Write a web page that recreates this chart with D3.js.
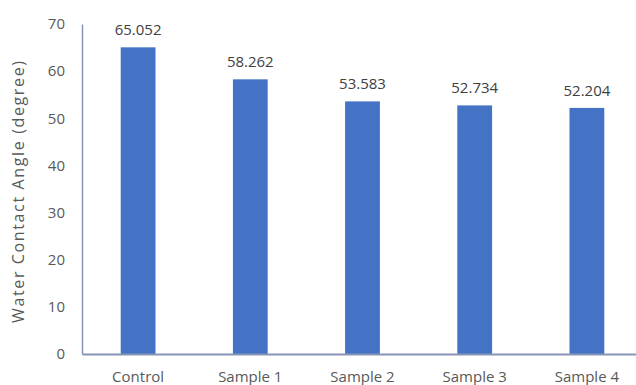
<!DOCTYPE html>
<html>
<head>
<meta charset="utf-8">
<script src="https://cdn.jsdelivr.net/npm/d3@7"></script>
<style>
  body { margin: 0; background: #fff; }
  text { font-family: "Open Sans", "DejaVu Sans", sans-serif; fill: #595959; }
</style>
</head>
<body>
<div id="chart"></div>
<script>
  // Chart data.
  const categories = ['Control', 'Sample 1', 'Sample 2', 'Sample 3', 'Sample 4'];
  const angles = [65.052, 58.262, 53.583, 52.734, 52.204];
  const yTicks = [0, 10, 20, 30, 40, 50, 60, 70];

  // Visualization size.
  const width = 636;
  const height = 385;

  const svg = d3.select('#chart')
    .append('svg')
    .attr('width', width)
    .attr('height', height);

  // Scales.
  const x = d3.scaleBand()
    .domain(categories)
    .range([82, 643])
    .paddingInner(0.69)
    .paddingOuter(0.345);

  const y = d3.scaleLinear()
    .domain([0, 70])
    .range([354, 24]);

  // Bars.
  svg.append('g')
    .selectAll('rect')
    .data(angles)
    .enter()
    .append('rect')
    .attr('x', (d, i) => x(categories[i]))
    .attr('y', d => y(d))
    .attr('width', x.bandwidth())
    .attr('height', d => y(0) - y(d))
    .style('fill', '#4472c4');

  // Value labels.
  svg.append('g')
    .selectAll('text')
    .data(angles)
    .enter()
    .append('text')
    .text(d => d3.format('.3f')(d))
    .attr('x', (d, i) => x(categories[i]) + x.bandwidth() / 2)
    .attr('y', d => y(d) - 12)
    .style('text-anchor', 'middle')
    .style('font-size', '15px')
    .style('fill', '#404040');

  // Y axis.
  const yAxis = svg.append('g')
    .attr('transform', 'translate(82, 0)')
    .call(d3.axisLeft(y).tickValues(yTicks).tickSize(0).tickPadding(17));
  yAxis.select('.domain').style('stroke', '#8595b8').style('stroke-width', 1.5);
  yAxis.selectAll('text')
    .style('font-size', '15px')
    .style('fill', '#595959')
    .style('font-family', '"Open Sans", sans-serif');

  // X axis.
  const xAxis = svg.append('g')
    .attr('transform', 'translate(0, 354)')
    .call(d3.axisBottom(x).tickSize(0).tickPadding(17));
  xAxis.select('.domain').style('stroke', '#8595b8').style('stroke-width', 2);
  xAxis.selectAll('text')
    .style('font-size', '15px')
    .style('fill', '#595959')
    .style('font-family', '"Open Sans", sans-serif');

  // Y axis title.
  svg.append('text')
    .text('Water Contact Angle  (degree)')
    .attr('transform', 'translate(24, 192) rotate(-90)')
    .attr('textLength', 262)
    .style('text-anchor', 'middle')
    .style('font-size', '16px');
</script>
</body>
</html>
